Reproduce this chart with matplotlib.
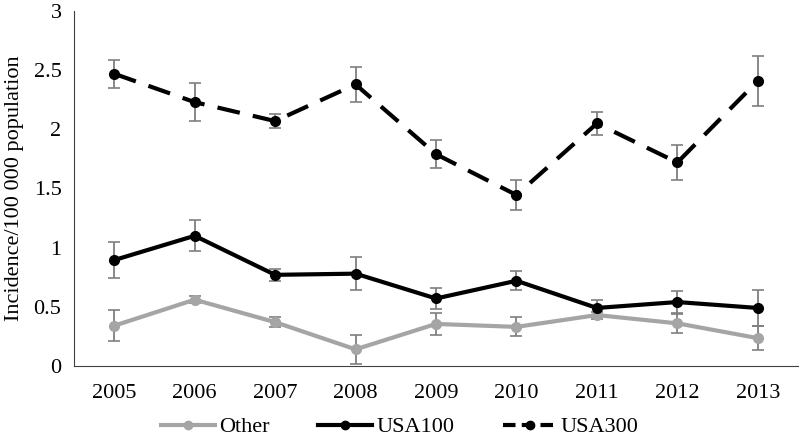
import matplotlib.pyplot as plt
from matplotlib.lines import Line2D

years = ["2005", "2006", "2007", "2008", "2009", "2010", "2011", "2012", "2013"]

other = [0.34, 0.56, 0.37, 0.14, 0.355, 0.33, 0.43, 0.36, 0.235]
other_err = [0.13, 0.03, 0.04, 0.12, 0.09, 0.08, 0.03, 0.08, 0.1]

usa100 = [0.895, 1.10, 0.77, 0.78, 0.57, 0.72, 0.49, 0.54, 0.49]
usa100_err = [0.15, 0.13, 0.05, 0.14, 0.09, 0.08, 0.07, 0.09, 0.15]

usa300 = [2.47, 2.23, 2.07, 2.38, 1.79, 1.445, 2.05, 1.72, 2.41]
usa300_err = [0.12, 0.16, 0.06, 0.15, 0.12, 0.13, 0.1, 0.15, 0.21]

plt.rcParams["font.family"] = ["Liberation Serif", "DejaVu Serif"]

fig = plt.figure(figsize=(8, 4.43), dpi=100)
ax = fig.add_axes([0.0925, 0.174, 0.905, 0.801])

x = range(len(years))
err_kw = dict(ecolor="#7f7f7f", elinewidth=1.3, capsize=4, capthick=1.2)
dash = (0, (5.5, 3.2))

ax.errorbar(x, other, yerr=other_err, color="#a5a5a5", lw=3, marker="o",
            ms=7, **err_kw)
ax.errorbar(x, usa100, yerr=usa100_err, color="black", lw=3, marker="o",
            ms=7, **err_kw)
ax.errorbar(x, usa300, yerr=usa300_err, color="black", lw=3, marker="o",
            ms=7, ls=dash, **err_kw)

ax.set_xlim(-0.5, len(years) - 0.5)
ax.set_ylim(0, 3)
ax.set_xticks(list(x))
ax.set_xticklabels(years)
ax.set_yticks([0, 0.5, 1, 1.5, 2, 2.5, 3])
ax.set_yticklabels(["0", "0.5", "1", "1.5", "2", "2.5", "3"])
ax.tick_params(length=0, labelsize=16, pad=9)
ax.tick_params(axis="x", pad=13)

ax.set_ylabel("Incidence/100 000 population", fontsize=16, labelpad=7)

for s in ["top", "right"]:
    ax.spines[s].set_visible(False)
ax.spines["left"].set_color("#404040")
ax.spines["bottom"].set_color("#404040")

handles = [
    Line2D([], [], color="#a5a5a5", lw=3, marker="o", ms=6),
    Line2D([], [], color="black", lw=3, marker="o", ms=6),
    Line2D([], [], color="black", lw=3, marker="o", ms=6, ls=(0, (3, 1.5))),
]
fig.legend(handles, ["Other", "USA100", "USA300"], loc="center",
           bbox_to_anchor=(0.5, 0.036), ncol=3, frameon=False, fontsize=16,
           handlelength=2.4, columnspacing=2.2, handletextpad=0.2)

plt.savefig("out.png", dpi=100)
